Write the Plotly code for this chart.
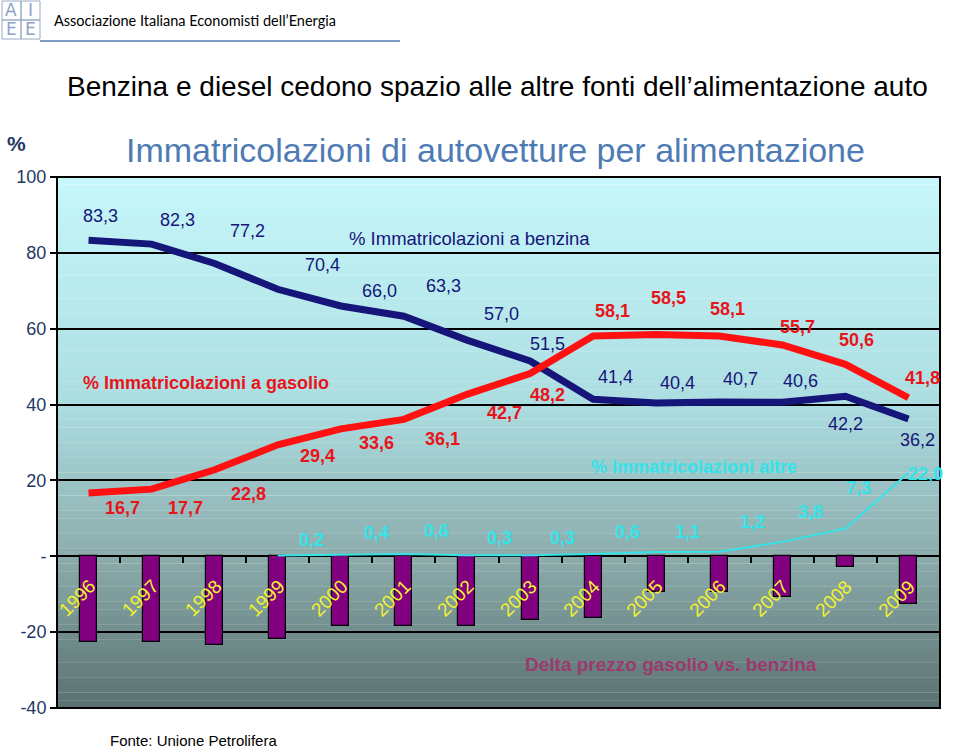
import plotly.graph_objects as go

# ---------------- data ----------------
years = list(range(1996, 2010))
benzina = [83.3, 82.3, 77.2, 70.4, 66.0, 63.3, 57.0, 51.5, 41.4, 40.4, 40.7, 40.6, 42.2, 36.2]
gasolio = [16.7, 17.7, 22.8, 29.4, 33.6, 36.1, 42.7, 48.2, 58.1, 58.5, 58.1, 55.7, 50.6, 41.8]
altre_years = list(range(1999, 2010))
altre = [0.2, 0.4, 0.6, 0.3, 0.3, 0.6, 1.1, 1.2, 3.8, 7.3, 22.0]
delta = [-22.6, -22.6, -23.5, -21.7, -18.3, -18.3, -18.3, -16.8, -16.4, -9.4, -9.4, -10.8, -2.8, -12.5]
y_tickvals = [100, 80, 60, 40, 20, 0, -20, -40]
y_ticktext = ["100", "80", "60", "40", "20", "-", "-20", "-40"]

# label pixel offsets (style)
benz_dx = [12, 26, 33, 45, 39, 40, 35, 17, 22, 21, 21, 18, 0, 9]
benz_dy = [-24, -24, -32, -24, -15, -30, -26, -17, -22, -20, -23, -21, 28, 21]
gas_dx = [34, 34, 34, 40, 36, 39, 38, 17, 19, 12, 8, 15, 11, 14]
gas_dy = [15, 19, 24, 11, 14, 20, 19, 22, -25, -36, -27, -18, -24, -20]
alt_dx = [34, 36, 33, 33, 32, 34, 31, 33, 28, 13, 17]
alt_dy = [-16, -22, -23, -17, -17, -22, -20, -30, -30, -41, 1]

W, H = 960, 749
ML, MR, MT, MB = 57, 20, 177, 41
PW, PH = W - ML - MR, H - MT - MB
FONT = "Liberation Sans, Arial, sans-serif"

NAVY = "#15157a"
RED = "#ff1111"
CYAN = "#35e3e8"


def px(x):
    return (x - ML) / PW


def py(y):
    return (H - MB - y) / PH


def fmt(v):
    return f"{v:.1f}".replace(".", ",")


def note(x, y, text, size, color, family=FONT, xanchor="center"):
    return dict(xref="paper", yref="paper", x=px(x), y=py(y), text=text, showarrow=False,
                xanchor=xanchor, yanchor="middle",
                font=dict(family=family, size=size, color=color))


fig = go.Figure()

fig.add_trace(go.Bar(x=years, y=delta, width=0.27,
                     marker=dict(color="#800080", line=dict(color="black", width=1.2)),
                     showlegend=False, hoverinfo="skip"))
fig.add_trace(go.Scatter(x=years, y=benzina, mode="lines",
                         line=dict(color=NAVY, width=7), showlegend=False))
fig.add_trace(go.Scatter(x=years, y=gasolio, mode="lines",
                         line=dict(color=RED, width=7), showlegend=False))
fig.add_trace(go.Scatter(x=altre_years, y=altre, mode="lines",
                         line=dict(color=CYAN, width=2), showlegend=False))

annotations = []
for i, (x, v) in enumerate(zip(years, benzina)):
    annotations.append(dict(x=x, y=v, text=fmt(v), showarrow=False,
                            xshift=benz_dx[i], yshift=-benz_dy[i],
                            font=dict(family=FONT, size=18, color=NAVY)))
for i, (x, v) in enumerate(zip(years, gasolio)):
    annotations.append(dict(x=x, y=v, text="<b>" + fmt(v) + "</b>", showarrow=False,
                            xshift=gas_dx[i], yshift=-gas_dy[i],
                            font=dict(family=FONT, size=18, color="#e8141a")))
for i, (x, v) in enumerate(zip(altre_years, altre)):
    annotations.append(dict(x=x, y=v, text="<b>" + fmt(v) + "</b>", showarrow=False,
                            xshift=alt_dx[i], yshift=-alt_dy[i],
                            font=dict(family=FONT, size=18, color=CYAN)))
for x in years:
    annotations.append(dict(x=x, y=-11, text=str(x), showarrow=False, textangle=-45,
                            xshift=-12, font=dict(family=FONT, size=19, color="#f2f230")))

annotations += [
    note(469, 238, "% Immatricolazioni a benzina", 18.5, NAVY),
    note(206, 383, "<b>% Immatricolazioni a gasolio</b>", 18, "#e8141a"),
    note(694, 467, "<b>% Immatricolazioni altre</b>", 18, CYAN),
    note(671, 664, "<b>Delta prezzo gasolio vs. benzina</b>", 19, "#9c3a6e"),
    note(497, 86, "Benzina e diesel cedono spazio alle altre fonti dell\u2019alimentazione auto", 28, "black"),
    note(495, 150, "Immatricolazioni di autovetture per alimentazione", 34, "#4f7bb5"),
    note(16, 143, "<b>%</b>", 21, "#1f3864"),
    note(108, 740, "Fonte: Unione Petrolifera", 15, "black", xanchor="left"),
    note(52, 20, "Associazione Italiana Economisti dell\u2019Energia", 14.5, "black",
         family="Lato, Carlito, sans-serif", xanchor="left"),
]
for letter, cx, cy in [("A", 11, 10), ("I", 30, 10), ("E", 11, 29), ("E", 30, 29)]:
    annotations.append(note(cx, cy, letter, 17, "#8ea2c8", family="DejaVu Sans, sans-serif"))

# background gradient strips
stops = [(100, (198, 247, 251)), (40, (172, 221, 225)), (0, (140, 172, 172)), (-40, (90, 112, 112))]


def col_at(v):
    for (v0, c0), (v1, c1) in zip(stops[:-1], stops[1:]):
        if v1 <= v <= v0:
            t = (v0 - v) / (v0 - v1)
            return "rgb(%d,%d,%d)" % tuple(round(a + (b - a) * t) for a, b in zip(c0, c1))
    return "rgb(90,112,112)"


shapes = []
n = 70
for k in range(n):
    y0 = 100 - k * 140 / n
    y1 = y0 - 140 / n
    shapes.append(dict(type="rect", xref="paper", yref="y", x0=0, x1=1, y0=y1, y1=y0 + 0.05,
                       fillcolor=col_at((y0 + y1) / 2), line=dict(width=0), layer="below"))
shapes.append(dict(type="rect", xref="paper", yref="paper", x0=0, x1=1, y0=0, y1=1,
                   line=dict(color="black", width=2)))
shapes.append(dict(type="line", xref="paper", yref="paper", x0=px(40), x1=px(400), y0=py(41), y1=py(41),
                   line=dict(color="#7f9cc2", width=2)))
for x0, y0 in [(2, 1), (21, 1), (2, 20), (21, 20)]:
    shapes.append(dict(type="rect", xref="paper", yref="paper", x0=px(x0), x1=px(x0 + 19),
                       y0=py(y0 + 19), y1=py(y0), line=dict(color="#9aaac4", width=1)))

fig.update_layout(
    width=W, height=H,
    margin=dict(l=ML, r=MR, t=MT, b=MB),
    paper_bgcolor="white", plot_bgcolor="rgba(0,0,0,0)",
    bargap=0,
    xaxis=dict(range=[1995.5, 2009.5], anchor="free", position=40 / 140,
               tickmode="array", tickvals=[y + 0.5 for y in years[:-1]],
               ticks="outside", ticklen=6, tickcolor="black", tickwidth=1.5,
               showticklabels=False, showgrid=False, zeroline=False, showline=False),
    yaxis=dict(range=[-40, 100], tickmode="array", tickvals=y_tickvals, ticktext=y_ticktext,
               ticks="outside", ticklen=6, tickcolor="black", tickwidth=1.5,
               showgrid=True, gridcolor="black", gridwidth=1.5, zeroline=False, showline=False,
               tickfont=dict(family=FONT, size=18, color="#1f3864")),
    annotations=annotations,
    shapes=shapes,
)

fig.write_html("out.html", config={"displayModeBar": False},
               post_script="document.body.style.margin='0px';")
